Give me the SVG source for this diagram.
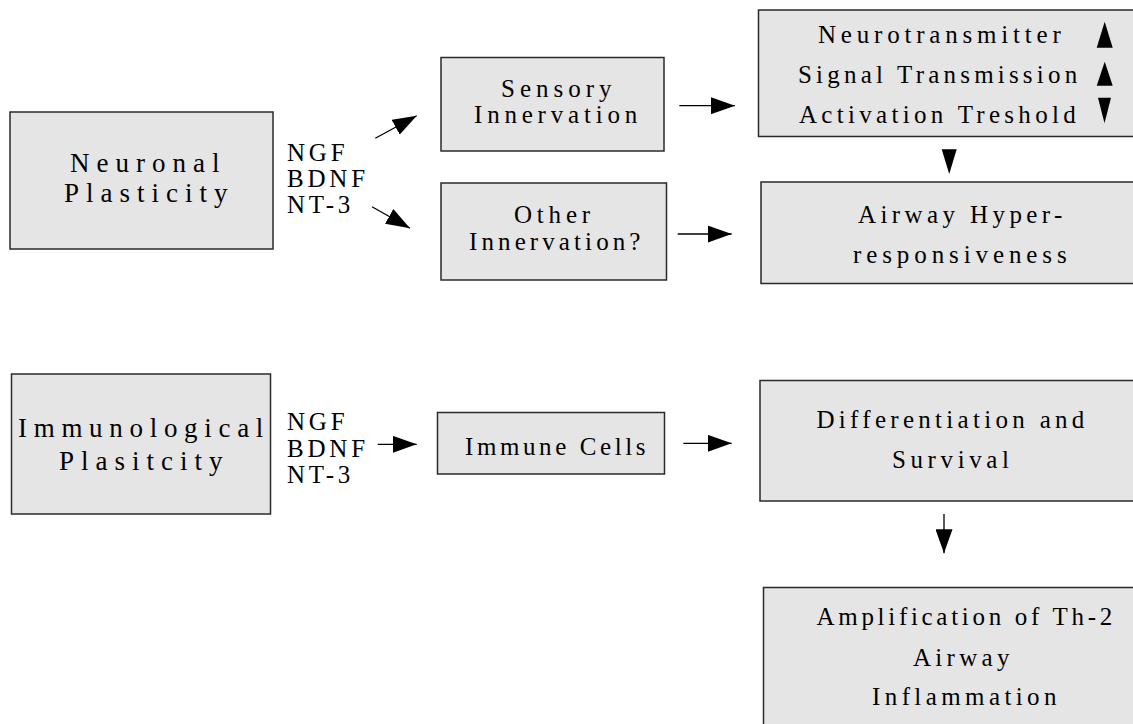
<svg xmlns="http://www.w3.org/2000/svg" width="1133" height="724" viewBox="0 0 1133 724">
<style>
.box{fill:#e5e5e5;stroke:#2a2a2a;stroke-width:1.5}
text{font-family:"Liberation Serif","Times New Roman",serif;fill:#000}
.big{font-size:27px;letter-spacing:7px}
.mid{font-size:25px;letter-spacing:4.4px}
.lab{font-size:25px;letter-spacing:3.8px}
.con{stroke:#000;stroke-width:1.3;fill:none;marker-end:url(#ah)}
.tri{fill:#000}
</style>
<defs>
<marker id="ah" markerUnits="userSpaceOnUse" markerWidth="24" markerHeight="17" refX="24" refY="8.5" orient="auto">
<path d="M0,0 L24,8.5 L0,17 z" fill="#000"/>
</marker>
</defs>
<rect width="1133" height="724" fill="#fff"/>

<g id="neuronal">
<rect class="box" x="10" y="112" width="263" height="137"/>
<text class="big" x="70" y="171.5">Neuronal</text>
<text class="big" x="64" y="201.5">Plasticity</text>
</g>
<g id="factors1">
<text class="lab" x="287" y="160.5">NGF</text>
<text class="lab" x="287" y="186.5">BDNF</text>
<text class="lab" x="287" y="213">NT-3</text>
</g>
<g id="sensory">
<rect class="box" x="441" y="57.5" width="223" height="93.5"/>
<text class="mid" x="501" y="96.5" style="letter-spacing:5px">Sensory</text>
<text class="mid" x="474" y="122.5" style="letter-spacing:4.8px">Innervation</text>
</g>
<g id="other">
<rect class="box" x="441" y="183" width="225.5" height="97"/>
<text class="mid" x="514" y="223" style="letter-spacing:4.8px">Other</text>
<text class="mid" x="469" y="250" style="letter-spacing:4.1px">Innervation?</text>
</g>
<g id="effects">
<rect class="box" x="758.5" y="10" width="390" height="126.5"/>
<text class="mid" x="818" y="43" style="letter-spacing:4.8px">Neurotransmitter</text>
<text class="mid" x="798" y="82.5" style="letter-spacing:4.2px">Signal Transmission</text>
<text class="mid" x="799" y="123" style="letter-spacing:4.3px">Activation Treshold</text>
<polygon class="tri" points="1096.7,47.7 1112.7,47.7 1104.7,21.7"/>
<polygon class="tri" points="1096.7,85.7 1112.7,85.7 1104.7,61.7"/>
<polygon class="tri" points="1098,97.7 1111,97.7 1104.5,123.3"/>
</g>
<g id="airway">
<rect class="box" x="761" y="182" width="390" height="101.5"/>
<text class="mid" x="858" y="223">Airway Hyper-</text>
<text class="mid" x="853" y="263" style="letter-spacing:4.9px">responsiveness</text>
</g>
<g id="immunological">
<rect class="box" x="11.5" y="374" width="259" height="140"/>
<text class="big" x="18" y="437" style="letter-spacing:6.7px">Immunological</text>
<text class="big" x="59" y="470">Plasitcity</text>
</g>
<g id="factors2">
<text class="lab" x="287" y="429.5">NGF</text>
<text class="lab" x="287" y="456.5">BDNF</text>
<text class="lab" x="287" y="483">NT-3</text>
</g>
<g id="immune">
<rect class="box" x="437.5" y="412.5" width="227" height="61.5"/>
<text class="mid" x="465" y="455" style="letter-spacing:3.6px">Immune Cells</text>
</g>
<g id="differentiation">
<rect class="box" x="760" y="380.5" width="390" height="120.5"/>
<text class="mid" x="816.5" y="428" style="letter-spacing:4.3px">Differentiation and</text>
<text class="mid" x="892" y="468" style="letter-spacing:4.6px">Survival</text>
</g>
<g id="amplification">
<rect class="box" x="763.5" y="587.5" width="390" height="160"/>
<text class="mid" x="816.5" y="625" style="letter-spacing:3.7px">Amplification of Th-2</text>
<text class="mid" x="913" y="665.5" style="letter-spacing:4.3px">Airway</text>
<text class="mid" x="872" y="705">Inflammation</text>
</g>

<g id="connectors">
<line class="con" x1="375.3" y1="138.3" x2="416.7" y2="115.7"/>
<line class="con" x1="372" y1="206.7" x2="410" y2="228.3"/>
<line class="con" x1="679.3" y1="105.7" x2="735" y2="105.7"/>
<line class="con" x1="677.7" y1="234" x2="731.7" y2="234"/>
<polygon class="tri" points="941.7,149.3 956.7,149.3 949.2,174"/>
<line class="con" x1="377.7" y1="444.3" x2="416.7" y2="444.3"/>
<line class="con" x1="683.3" y1="443.3" x2="731.7" y2="443.3"/>
<line class="con" x1="944" y1="514" x2="944" y2="553.3"/>
</g>
</svg>
